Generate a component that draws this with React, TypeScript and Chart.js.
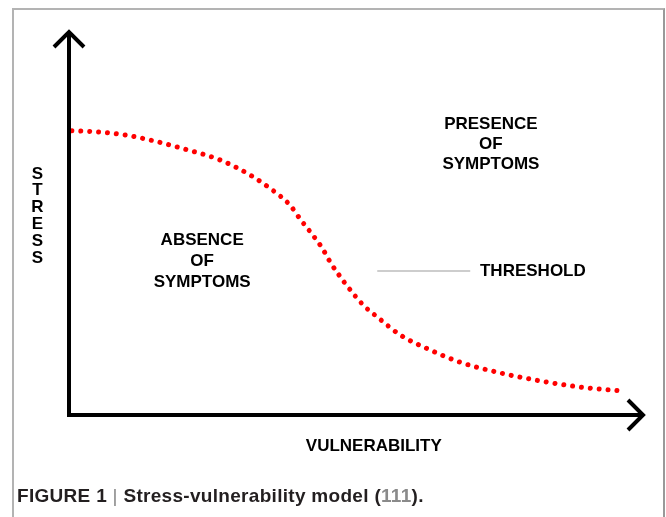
import React, { useEffect, useRef } from "react";
import { Chart, registerables } from "chart.js";

Chart.register(...registerables);

// Curve of the stress-vulnerability threshold (vulnerability 0..100, stress 0..100)
const vulnerability = [0.5, 5.2, 9.8, 14.1, 20.0, 26.3, 31.5, 35.9, 38.5, 40.4, 42.3, 44.1, 45.6, 47.4, 49.3, 51.4, 53.7, 57.7, 62.9, 68.1, 75.1, 82.1, 89.0, 96.3];
const stress = [74.2, 73.9, 73.1, 71.8, 69.5, 66.6, 62.7, 58.2, 54.8, 50.9, 47.3, 43.6, 39.7, 35.8, 32.1, 28.5, 25.6, 20.9, 17.0, 13.8, 11.0, 8.9, 7.3, 6.3];

const xAxisLabel = "VULNERABILITY";
const yAxisLabel = "STRESS";
const absenceLines = ["ABSENCE", "OF", "SYMPTOMS"];
const presenceLines = ["PRESENCE", "OF", "SYMPTOMS"];
const thresholdLabel = "THRESHOLD";

const FONT = '"Liberation Sans", Arial, Helvetica, sans-serif';

const annotationsPlugin = {
  id: "annotations",
  afterDraw(chart: any) {
    const { ctx, chartArea, scales } = chart;
    const xs = scales.x;
    const ys = scales.y;
    const L = chartArea.left;
    const B = chartArea.bottom;
    const T = chartArea.top;
    const R = chartArea.right;
    ctx.save();

    // axes
    ctx.strokeStyle = "#000";
    ctx.lineWidth = 4;
    ctx.lineCap = "butt";
    ctx.lineJoin = "miter";
    ctx.beginPath();
    ctx.moveTo(L, B + 2);
    ctx.lineTo(L, T + 1);
    ctx.moveTo(L - 2, B);
    ctx.lineTo(R - 1, B);
    ctx.stroke();
    // arrow heads
    ctx.beginPath();
    ctx.moveTo(L - 15, T + 15);
    ctx.lineTo(L, T);
    ctx.lineTo(L + 15, T + 15);
    ctx.moveTo(R - 15, B - 15);
    ctx.lineTo(R, B);
    ctx.lineTo(R - 15, B + 15);
    ctx.stroke();

    // threshold pointer line
    ctx.strokeStyle = "#bdbdbd";
    ctx.lineWidth = 1.5;
    const ty = ys.getPixelForValue(37.6);
    ctx.beginPath();
    ctx.moveTo(xs.getPixelForValue(53.7), ty);
    ctx.lineTo(xs.getPixelForValue(69.9), ty);
    ctx.stroke();

    ctx.fillStyle = "#000";
    ctx.font = `bold 17px ${FONT}`;
    ctx.textBaseline = "middle";

    ctx.textAlign = "left";
    ctx.fillText(thresholdLabel, xs.getPixelForValue(71.6), ty);

    ctx.textAlign = "center";
    const ax = xs.getPixelForValue(23.2);
    const ay = ys.getPixelForValue(40.2);
    absenceLines.forEach((t, i) => ctx.fillText(t, ax, ay + (i - 1) * 21));

    const px = xs.getPixelForValue(73.5);
    const py = ys.getPixelForValue(70.8);
    presenceLines.forEach((t, i) => ctx.fillText(t, px, py + (i - 1) * 20));

    ctx.fillText(xAxisLabel, xs.getPixelForValue(53.1), B + 31);

    const sx = L - 31.5;
    const sTop = 174;
    yAxisLabel.split("").forEach((c, i) => ctx.fillText(c, sx, sTop + i * 16.8));

    ctx.restore();
  },
};

export default function App() {
  const ref = useRef<HTMLCanvasElement>(null);
  useEffect(() => {
    if (!ref.current) return;
    const chart = new Chart(ref.current, {
      type: "line",
      data: {
        datasets: [
          {
            data: vulnerability.map((v, i) => ({ x: v, y: stress[i] })),
            borderColor: "#ff0000",
            borderWidth: 5,
            borderDash: [0.01, 8.9],
            borderCapStyle: "round",
            cubicInterpolationMode: "monotone",
            pointRadius: 0,
            fill: false,
          },
        ],
      },
      options: {
        responsive: false,
        animation: false,
        devicePixelRatio: 1,
        layout: { padding: { left: 69, right: 23, top: 32, bottom: 102 } },
        plugins: { legend: { display: false }, tooltip: { enabled: false } },
        scales: {
          x: { type: "linear", min: 0, max: 100, display: false },
          y: { type: "linear", min: 0, max: 100, display: false },
        },
      },
      plugins: [annotationsPlugin],
    });
    return () => chart.destroy();
  }, []);

  return (
    <div style={{ position: "fixed", left: 0, top: 0, width: 666, height: 517, background: "#fff", overflow: "hidden" }}>
      <div
        style={{
          position: "absolute",
          left: 12,
          top: 8,
          width: 649,
          height: 530,
          borderTop: "2px solid #b3b3b3",
          borderLeft: "2px solid #b3b3b3",
          borderRight: "2px solid #999",
        }}
      />
      <canvas ref={ref} width={666} height={517} style={{ position: "absolute", left: 0, top: 0, width: 666, height: 517 }} />
      <div
        style={{
          position: "absolute",
          left: 17,
          top: 485,
          fontFamily: FONT,
          fontWeight: "bold",
          fontSize: 19,
          letterSpacing: 0.3,
          lineHeight: "21px",
          color: "#231f20",
          whiteSpace: "nowrap",
        }}
      >
        FIGURE 1 <span style={{ fontWeight: "normal", color: "#888" }}>|</span> Stress-vulnerability model (
        <span style={{ color: "#8a8a8a" }}>111</span>).
      </div>
    </div>
  );
}
